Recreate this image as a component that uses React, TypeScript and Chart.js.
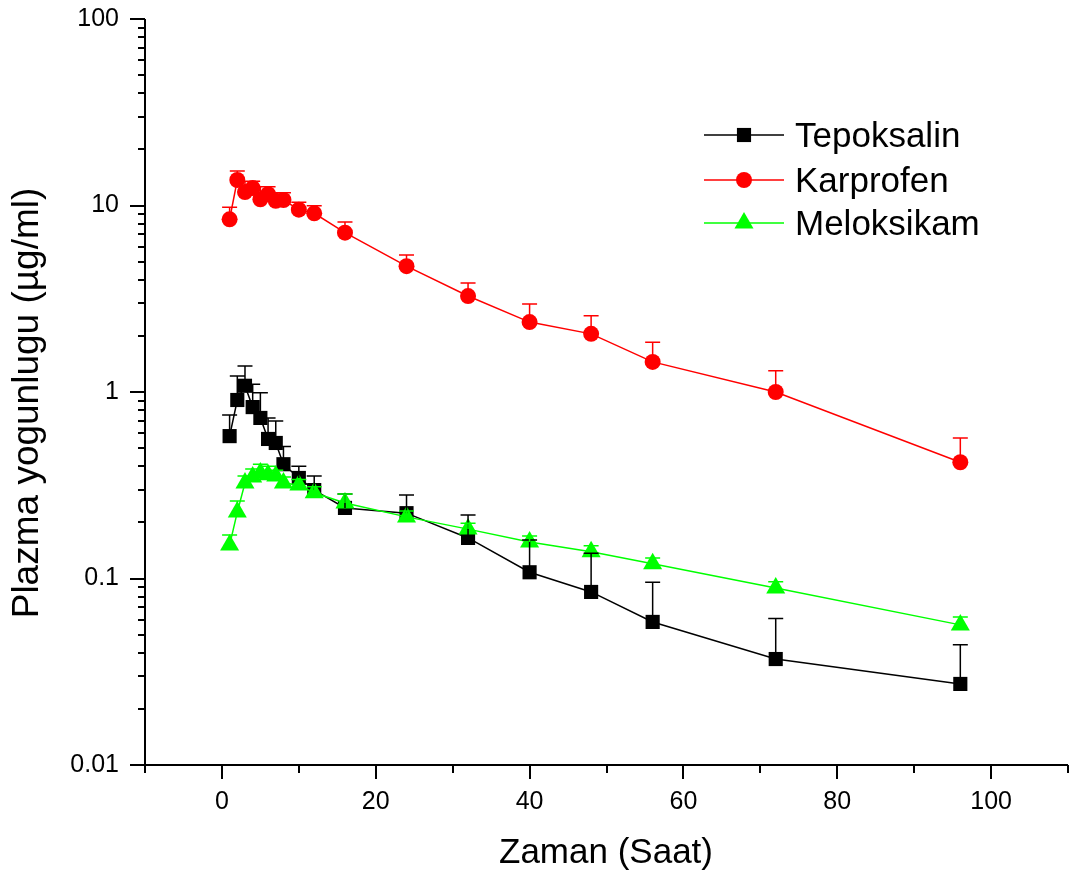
import React, { useEffect, useRef } from 'react';
import { Chart, registerables } from 'chart.js';

Chart.register(...registerables);

// ---------- data ----------
const times = [1, 2, 3, 4, 5, 6, 7, 8, 10, 12, 16, 24, 32, 40, 48, 56, 72, 96];

const tepoksalinMean = [0.58, 0.906, 1.08, 0.83, 0.726, 0.56, 0.533, 0.41, 0.346, 0.298, 0.239, 0.224, 0.165, 0.108, 0.0847, 0.0585, 0.037, 0.0272];
const tepoksalinSD = [0.173, 0.314, 0.30, 0.27, 0.264, 0.166, 0.167, 0.10, 0.054, 0.057, 0.045, 0.056, 0.054, 0.053, 0.052, 0.037, 0.024, 0.017];

const karprofenMean = [8.43, 13.7, 11.8, 12.4, 10.8, 11.5, 10.6, 10.7, 9.5, 9.08, 7.15, 4.73, 3.27, 2.37, 2.05, 1.45, 1.0, 0.42];
const karprofenSD = [1.35, 1.6, 1.7, 1.1, 1.8, 1.1, 1.1, 1.0, 0.9, 0.9, 1.0, 0.7, 0.57, 0.59, 0.51, 0.40, 0.30, 0.147];

const meloksikamMean = [0.151, 0.227, 0.325, 0.35, 0.368, 0.36, 0.355, 0.325, 0.317, 0.288, 0.254, 0.214, 0.184, 0.157, 0.139, 0.120, 0.089, 0.0564];
const meloksikamSD = [0.02, 0.033, 0.03, 0.037, 0.042, 0.04, 0.025, 0.025, 0.023, 0.022, 0.03, 0.016, 0.014, 0.012, 0.011, 0.009, 0.007, 0.0057];

const seriesNames = ['Tepoksalin', 'Karprofen', 'Meloksikam'];
const xTickValues = [0, 20, 40, 60, 80, 100];
const yTickValues = [0.01, 0.1, 1, 10, 100];
const xTitle = 'Zaman (Saat)';
const yTitle = 'Plazma yogunlugu (µg/ml)';

// ---------- style ----------
const FONT = '"Liberation Sans", Arial, Helvetica, sans-serif';
const COLORS = ['#000000', '#ff0000', '#00ff00'];
const STYLES = ['rect', 'circle', 'triangle'];
const RADII = [10, 8, 11];
const X_MIN = -10;
const X_MAX = 110;

const means = [tepoksalinMean, karprofenMean, meloksikamMean];
const sds = [tepoksalinSD, karprofenSD, meloksikamSD];

function drawMarker(ctx: CanvasRenderingContext2D, style: string, cx: number, cy: number, r: number, color: string) {
  ctx.fillStyle = color;
  ctx.beginPath();
  if (style === 'rect') {
    const s = Math.SQRT1_2 * r;
    ctx.rect(cx - s, cy - s, 2 * s, 2 * s);
  } else if (style === 'circle') {
    ctx.arc(cx, cy, r, 0, Math.PI * 2);
  } else {
    ctx.moveTo(cx, cy - r);
    ctx.lineTo(cx + r * Math.sin((2 * Math.PI) / 3), cy - r * Math.cos((2 * Math.PI) / 3));
    ctx.lineTo(cx + r * Math.sin((4 * Math.PI) / 3), cy - r * Math.cos((4 * Math.PI) / 3));
    ctx.closePath();
  }
  ctx.fill();
}

const axesPlugin = {
  id: 'originAxes',
  beforeDatasetsDraw(chart: any) {
    const { ctx, chartArea: a, scales } = chart;
    const x = scales.x;
    const y = scales.y;
    ctx.save();
    ctx.strokeStyle = '#000';
    ctx.lineWidth = 2;
    ctx.beginPath();
    ctx.moveTo(a.left, a.top);
    ctx.lineTo(a.left, a.bottom);
    ctx.moveTo(a.left - 1, a.bottom);
    ctx.lineTo(a.right, a.bottom);
    for (let v = X_MIN; v <= X_MAX; v += 10) {
      const px = Math.round(x.getPixelForValue(v));
      const len = v % 20 === 0 ? 14 : 8;
      ctx.moveTo(px, a.bottom);
      ctx.lineTo(px, a.bottom + len);
    }
    for (let e = -2; e <= 2; e++) {
      for (let m = 1; m <= 9; m++) {
        if (e === 2 && m > 1) break;
        const v = m * Math.pow(10, e);
        const py = Math.round(y.getPixelForValue(v));
        const len = m === 1 ? 15 : 7;
        ctx.moveTo(a.left, py);
        ctx.lineTo(a.left - len, py);
      }
    }
    ctx.stroke();
    ctx.restore();
  },
};

const errorBarPlugin = {
  id: 'errorBars',
  afterDatasetsDraw(chart: any) {
    const { ctx, scales } = chart;
    const y = scales.y;
    ctx.save();
    ctx.lineWidth = 1.5;
    for (let i = 0; i < means.length; i++) {
      const meta = chart.getDatasetMeta(i);
      ctx.strokeStyle = COLORS[i];
      ctx.beginPath();
      meta.data.forEach((pt: any, j: number) => {
        const top = y.getPixelForValue(means[i][j] + sds[i][j]);
        ctx.moveTo(pt.x, pt.y);
        ctx.lineTo(pt.x, top);
        ctx.moveTo(pt.x - 7.5, top);
        ctx.lineTo(pt.x + 7.5, top);
      });
      ctx.stroke();
    }
    ctx.restore();
  },
};

const decorPlugin = {
  id: 'decor',
  afterDraw(chart: any) {
    const { ctx } = chart;
    ctx.save();
    // legend
    const rows = [135, 180, 223];
    const baselines = [147, 192, 235];
    for (let i = 0; i < seriesNames.length; i++) {
      ctx.strokeStyle = COLORS[i];
      ctx.lineWidth = 1.5;
      ctx.beginPath();
      ctx.moveTo(704, rows[i]);
      ctx.lineTo(784, rows[i]);
      ctx.stroke();
      drawMarker(ctx, STYLES[i], 744, rows[i], RADII[i], COLORS[i]);
      ctx.fillStyle = '#000';
      ctx.font = `35px ${FONT}`;
      ctx.textAlign = 'left';
      ctx.textBaseline = 'alphabetic';
      ctx.fillText(seriesNames[i], 795, baselines[i]);
    }
    // axis titles
    ctx.fillStyle = '#000';
    ctx.font = `35px ${FONT}`;
    ctx.textAlign = 'center';
    ctx.textBaseline = 'alphabetic';
    ctx.fillText(xTitle, 606, 863);
    ctx.translate(38, 403);
    ctx.rotate(-Math.PI / 2);
    ctx.font = `37px ${FONT}`;
    ctx.fillText(yTitle, 0, 0);
    ctx.restore();
  },
};

export default function App() {
  const ref = useRef<HTMLCanvasElement | null>(null);

  useEffect(() => {
    if (!ref.current) return;
    const datasets = seriesNames.map((name, i) => ({
      label: name,
      data: times.map((t, j) => ({ x: t, y: means[i][j] })),
      borderColor: COLORS[i],
      backgroundColor: COLORS[i],
      borderWidth: 1.5,
      pointStyle: STYLES[i],
      pointRadius: RADII[i],
      pointBorderWidth: 0,
      pointBackgroundColor: COLORS[i],
      pointBorderColor: COLORS[i],
      pointHoverRadius: RADII[i],
      fill: false,
      tension: 0,
      order: 3 - i,
    }));

    const chart = new Chart(ref.current, {
      type: 'line',
      data: { datasets },
      plugins: [axesPlugin, errorBarPlugin, decorPlugin],
      options: {
        animation: false,
        responsive: false,
        devicePixelRatio: 1,
        layout: { autoPadding: false, padding: { top: 19, right: 5, left: 0, bottom: 0 } },
        plugins: {
          legend: { display: false },
          tooltip: { enabled: false },
          title: { display: false },
        },
        scales: {
          x: {
            type: 'linear',
            min: X_MIN,
            max: X_MAX,
            afterBuildTicks: (scale: any) => {
              scale.ticks = xTickValues.map((v) => ({ value: v }));
            },
            afterFit: (scale: any) => {
              scale.height = 118;
              scale.paddingLeft = 0;
              scale.paddingRight = 0;
              scale.paddingTop = 0;
              scale.paddingBottom = 0;
            },
            grid: { display: false, drawTicks: false },
            border: { display: false },
            ticks: {
              padding: 22,
              color: '#000',
              font: { family: FONT, size: 25 },
              callback: (v: any) => String(v),
              maxRotation: 0,
              autoSkip: false,
            },
          },
          y: {
            type: 'logarithmic',
            min: 0.01,
            max: 100,
            afterBuildTicks: (scale: any) => {
              scale.ticks = yTickValues.map((v) => ({ value: v, major: true }));
            },
            afterFit: (scale: any) => {
              scale.width = 145;
              scale.paddingLeft = 0;
              scale.paddingRight = 0;
              scale.paddingTop = 0;
              scale.paddingBottom = 0;
            },
            grid: { display: false, drawTicks: false },
            border: { display: false },
            ticks: {
              padding: 26,
              color: '#000',
              font: { family: FONT, size: 25 },
              callback: (v: any) => String(v),
              autoSkip: false,
            },
          },
        },
      } as any,
    });
    return () => chart.destroy();
  }, []);

  return (
    <div style={{ position: 'absolute', left: 0, top: 0, width: 1073, height: 883, background: '#fff' }}>
      <canvas ref={ref} width={1073} height={883} style={{ width: 1073, height: 883, display: 'block' }} />
    </div>
  );
}
